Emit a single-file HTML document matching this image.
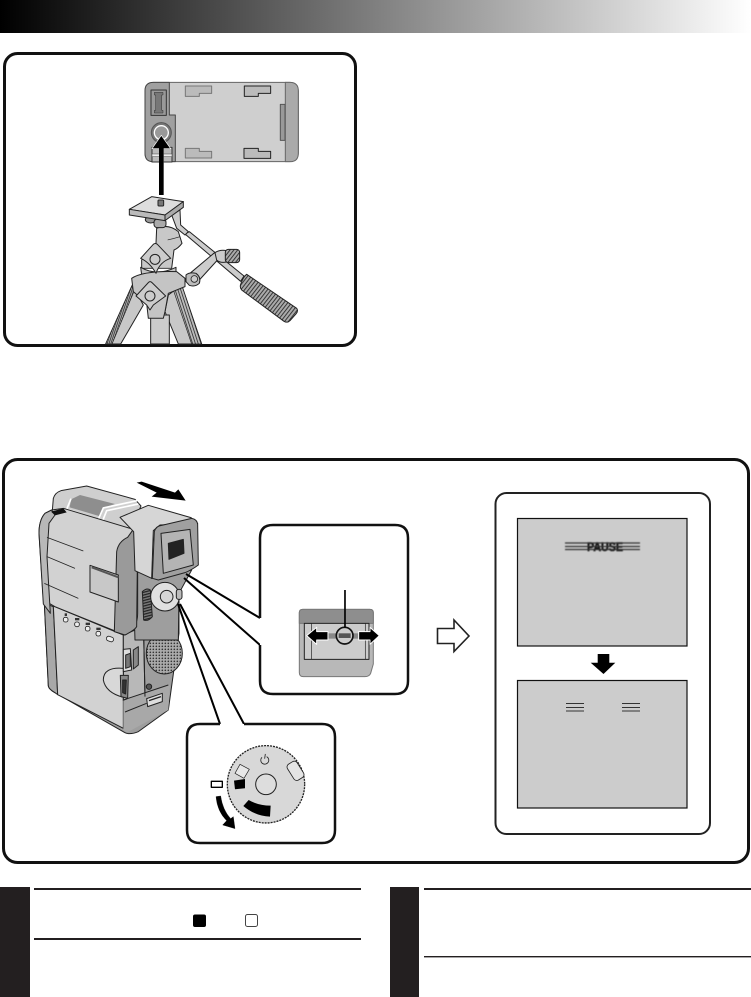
<!DOCTYPE html>
<html><head><meta charset="utf-8"><style>
html,body{margin:0;padding:0;background:#fff}
svg{display:block}
text{font-family:"Liberation Sans",sans-serif}
</style></head><body>
<svg width="751" height="997" viewBox="0 0 751 997" xmlns="http://www.w3.org/2000/svg">
<defs>
<linearGradient id="hd" x1="0" x2="1" y1="0" y2="0"><stop offset="0" stop-color="#000"/><stop offset="1" stop-color="#fff"/></linearGradient>
<pattern id="dots" width="9" height="9" patternUnits="userSpaceOnUse"><rect width="9" height="9" fill="#aaa"/><circle cx="4" cy="4" r="2.4" fill="#333"/></pattern>
<pattern id="ridge" width="9" height="9" patternUnits="userSpaceOnUse" patternTransform="rotate(38)"><rect width="9" height="9" fill="#aaa"/><rect width="2.5" height="9" fill="#222"/></pattern>
<pattern id="hatch" width="6" height="6" patternUnits="userSpaceOnUse" patternTransform="rotate(-20)"><rect width="6" height="6" fill="#aaa"/><rect width="2.5" height="6" fill="#333"/></pattern>
<pattern id="hatch2" width="8" height="8" patternUnits="userSpaceOnUse" patternTransform="rotate(-18)"><rect width="8" height="8" fill="#bbb"/><rect width="2.5" height="8" fill="#333"/></pattern>
<pattern id="wheel" width="8" height="8" patternUnits="userSpaceOnUse" patternTransform="rotate(-15)"><rect width="8" height="8" fill="#777"/><rect width="8" height="3.5" fill="#222"/></pattern>
<filter id="soft"><feGaussianBlur stdDeviation="0.45"/></filter>
</defs>
<rect width="751" height="997" fill="#fff"/>
<rect x="0" y="0" width="751" height="33" fill="url(#hd)"/>

<!-- frames -->
<rect x="4.5" y="53.5" width="351" height="292" rx="13" fill="#fff" stroke="#111" stroke-width="3"/>
<rect x="3.5" y="459.5" width="745" height="403" rx="14" fill="#fff" stroke="#111" stroke-width="3"/>

<!-- Top drawing -->
<g transform="translate(100,60) scale(.3333)" stroke="#222" stroke-width="3" stroke-linejoin="round">
 <!-- battery plate -->
 <rect x="135" y="67" width="460" height="238" rx="26" fill="#cfcfcf" stroke="#666"/>
 <path d="M208 67H160Q135 67 135 92V280Q135 305 160 305H226V165H208Z" fill="#a0a0a0" stroke="#444"/>
 <path d="M556 67H570Q595 67 595 92V280Q595 305 570 305H556Z" fill="#aaa" stroke="#666"/>
 <rect x="153" y="90" width="46" height="76" fill="#999" stroke="#333"/>
 <path d="M163 97h26v8h-4v46h4v8h-26v-8h4v-46h-4z" fill="#777" stroke="#333" stroke-width="1.5"/>
 <circle cx="184" cy="218" r="30" fill="#777" stroke="#555"/>
 <circle cx="184" cy="218" r="21" fill="#999" stroke="#fff" stroke-width="4"/>
 <rect x="156" y="262" width="60" height="44" fill="#bbb" stroke="#333"/>
 <rect x="156" y="282" width="60" height="8" fill="#eee" stroke="#444" stroke-width="1.5"/>
 <rect x="541" y="133" width="14" height="108" fill="#999" stroke="#555"/>
 <path d="M256 78h79v22h-37v9h-42z" fill="#bbb" stroke="#777"/>
 <path d="M433 78h79v22h-37v9h-42z" fill="#bbb" stroke="#222"/>
 <path d="M256 265h42v9h37v20h-79z" fill="#bbb" stroke="#777"/>
 <path d="M432 265h43v9h37v21h-80z" fill="#bbb" stroke="#222"/>
 <!-- arrow -->
 <path d="M184 226L212 266H190V405H178V266H156Z" fill="#000" stroke="#fff" stroke-width="2"/>
 <path d="M184 232L204 264H191V405H177V264H164Z" fill="#000" stroke="none"/>
 <!-- tripod legs -->
 <path d="M97 675L17 852H62L130 735Z" fill="#c8c8c8"/>
 <path d="M97 675L17 852H36L108 680Z" fill="url(#hatch)" stroke-width="2"/>
 <path d="M205 705L245 675L305 852H235L195 755Z" fill="#c8c8c8"/>
 <path d="M220 690L245 675L305 852H275Z" fill="url(#hatch2)" stroke-width="2"/>
 <rect x="152" y="765" width="56" height="87" fill="#ccc"/>
 <!-- handle arm -->
 <path d="M255 522L268 515L432 648L422 664Z" fill="#ccc"/>
 <path d="M270 640L345 577L358 594L298 660Z" fill="#ccc"/>
 <path d="M345 578Q360 568 380 572V606Q360 610 350 600Z" fill="#ccc"/>
 <rect x="376" y="568" width="43" height="40" rx="9" fill="url(#ridge)"/>
 <path d="M258 645Q268 636 288 640Q304 652 298 670Q285 682 268 676L258 665Z" fill="#bbb"/>
 <circle cx="283" cy="657" r="10" fill="#ccc" stroke-width="2.5"/>
 <path d="M440 643L590 745Q596 752 588 762L570 782Q562 790 552 784L425 690Q418 682 423 670Q430 650 440 643Z" fill="url(#ridge)"/>
 <!-- head -->
 <path d="M170 505Q205 490 235 515L246 550Q235 565 222 570L215 625H125V600L168 550Z" fill="#c8c8c8"/>
 <path d="M203 540Q220 536 240 530" fill="none" stroke-width="2"/>
 <path d="M122 622Q170 650 228 622V645H125Z" fill="#c4c4c4"/>
 <path d="M95 655Q130 632 230 635L255 655V680L205 700L195 755L190 775H145L140 730L100 695Z" fill="#c4c4c4"/>
 <path d="M122 595L160 553Q166 548 172 553L212 595Q180 605 168 640Q150 608 122 595Z" fill="#ccc"/>
 <circle cx="165" cy="598" r="15" fill="#ccc"/>
 <path d="M108 708L145 668Q150 662 156 668L197 708L160 735L150 750L140 735Z" fill="#ccc"/>
 <circle cx="150" cy="708" r="15" fill="#ccc"/>
 <ellipse cx="152" cy="479" rx="16" ry="10" fill="#999"/>
 <rect x="162" y="477" width="36" height="26" rx="10" fill="#aaa"/>
 <path d="M215 465L240 450L242 495L265 515L255 525L230 505Z" fill="#ccc"/>
 <!-- plate -->
 <path d="M88 448L155 410L250 425L195 465Z" fill="#ddd"/>
 <path d="M88 448L195 465V482L88 465Z" fill="#bbb"/>
 <path d="M195 465L250 425V442L195 482Z" fill="#aaa"/>
 <rect x="174" y="420" width="17" height="18" rx="3" fill="#777"/>
</g>

<!-- Camera lower -->
<g transform="translate(35,600) scale(.3333)" stroke="#222" stroke-width="3" stroke-linejoin="round">
 <path d="M28 10L40 258Q42 268 60 278L270 398Q285 405 310 395L400 330L432 100L432 -20H300L240 0Z" fill="#9e9e9e"/>
 <path d="M28 10L55 20L68 284L60 278Q42 268 40 258Z" fill="#a8a8a8"/>
 <path d="M55 18L265 105V385L68 284Z" fill="#d2d2d2"/>
 <path d="M265 105L300 90L325 55L330 290L265 302Z" fill="#b8b8b8"/>
 <path d="M265 302V390L275 398L400 330L405 255Z" fill="#a8a8a8" stroke="none"/>
 <path d="M325 55L330 290" fill="none"/>
 <path d="M265 300L400 255M270 336L335 310" fill="none"/>
 <ellipse cx="388" cy="160" rx="54" ry="62" fill="url(#dots)"/>
 <circle cx="342" cy="260" r="8" fill="#555"/>
 <path d="M335 296L382 280L382 305L338 320Z" fill="#ddd"/>
 <path d="M342 302L378 290" fill="none" stroke-width="4"/>
 <path d="M265 205Q205 200 205 240Q212 278 265 292Z" fill="#d8d8d8"/>
 <path d="M265 148L286 146L290 210L265 215Z" fill="#ddd"/>
 <path d="M272 165L286 160V200L272 205Z" fill="#777"/>
 <path d="M295 150L310 140V195L295 207Z" fill="#888"/>
 <path d="M256 226L280 226L278 295L258 290Z" fill="#888"/>
 <path d="M263 240L274 240L272 282L263 278Z" fill="#333"/>
 <g fill="#eee" stroke-width="2.5"><rect x="85" y="52" width="14" height="14" rx="6"/><rect x="119" y="66" width="14" height="14" rx="6"/><rect x="151" y="79" width="14" height="14" rx="6"/><rect x="183" y="94" width="14" height="14" rx="6"/><rect x="214" y="110" width="22" height="14" rx="7" transform="rotate(20 225 117)"/></g>
 <g fill="#333" stroke="none"><rect x="89" y="40" width="7" height="8"/><rect x="120" y="54" width="13" height="7"/><rect x="152" y="68" width="13" height="7"/><rect x="184" y="83" width="13" height="7"/></g>
</g>

<!-- Camera upper -->
<g transform="translate(35,480) scale(.3333)" stroke="#222" stroke-width="3" stroke-linejoin="round">
 <path d="M305 8L320 5L420 38L430 28L452 62L350 50L365 38Z" fill="#000" stroke="none"/>
 <!-- right side upper -->
 <path d="M290 150L350 295L470 270L432 340L430 480H300Z" fill="#9e9e9e"/>
 <!-- top pack -->
 <path d="M52 92L55 55Q60 38 78 32L155 18L300 58L318 78L280 160L180 130L85 90Z" fill="#cfcfcf"/>
 <path d="M108 58L135 45L240 72L205 84L192 108L104 82Z" fill="#8e8e8e" stroke="none"/>
 <path d="M95 88L108 56M95 88L190 118L205 84L306 62M190 118L203 122L215 92L310 72" fill="none" stroke="#fff" stroke-width="5"/>
 <!-- LCD panel -->
 <path d="M12 160Q12 120 30 100L50 90L85 85L295 148L308 165V400Q308 445 270 465L60 380L25 360Z" fill="#d2d2d2"/>
 <path d="M12 160Q12 120 30 100L50 90L60 105L42 130L36 230L46 400L25 372Z" fill="#b8b8b8"/>
 <path d="M295 148L308 165L305 440Q300 450 270 465L238 455L245 215Q250 185 278 172Z" fill="#9a9a9a"/>
 <path d="M165 256L250 285L250 366L165 336Z" fill="#c8c8c8"/>
 <path d="M170 262L250 292" fill="none" stroke-width="6" stroke="#555"/>
 <path d="M36 172L145 213M28 310L130 355M36 230L120 265" fill="none" stroke-width="2.5"/>
 <path d="M48 95L85 85L95 97L60 106Z" fill="#111" stroke="none"/>
 <!-- viewfinder -->
 <path d="M255 112L340 76L468 113L488 130L375 135L355 152L350 295L300 272L296 155Z" fill="#d6d6d6"/>
 <path d="M358 155Q362 138 380 136L470 115Q486 118 488 132L490 255Q470 270 450 278L370 300L352 295Z" fill="#a0a0a0"/>
 <path d="M378 160L465 148L475 255L385 280Z" fill="#b4b4b4"/>
 <path d="M400 190L445 178L447 220L402 238Z" fill="#222"/>
 <!-- controls -->
 <path d="M322 335Q335 322 346 330L352 410Q340 425 326 420Z" fill="url(#wheel)"/>
 <circle cx="390" cy="350" r="43" fill="#e0e0e0"/>
 <circle cx="395" cy="350" r="19" fill="#d6d6d6"/>
 <rect x="424" y="328" width="17" height="30" rx="7" fill="#bbb"/>
</g>

<!-- pointers -->
<g stroke="#000" stroke-width="2" fill="none">
 <path d="M186 574L260 618M184 578L260 645"/>
 <path d="M178 604L220 724M180 604L244 724"/>
</g>

<!-- callout 1 -->
<path d="M260 618V538Q260 525 273 525H395Q408 525 408 538V681Q408 694 395 694H273Q260 694 260 681V645" fill="#fff" stroke="#111" stroke-width="2.5"/>
<!-- callout 2 -->
<path d="M220 724H200Q187 724 187 737V830Q187 843 200 843H322Q335 843 335 830V737Q335 724 322 724H244" fill="#fff" stroke="#111" stroke-width="2.5"/>

<g transform="translate(180,520) scale(.3333)" stroke="#222" stroke-width="3" stroke-linejoin="round">
 <path d="M358 278Q358 268 368 268H570Q580 268 580 278V432L572 460Q568 470 555 470H370Q358 470 358 458Z" fill="#b8b8b8" stroke="#777"/>
 <path d="M358 278Q358 268 368 268H570Q580 268 580 278V310H358Z" fill="#8e8e8e" stroke="#777"/>
 <path d="M373 310H567V418H373Z" fill="#ccc"/>
 <path d="M385 310H395V418M545 310H556V418" fill="none" stroke-width="2"/>
 <rect x="444" y="340" width="92" height="16" fill="#888" stroke="none"/>
 <circle cx="494" cy="347" r="25" fill="#ccc" stroke="#111" stroke-width="5"/>
 <rect x="476" y="340" width="36" height="14" fill="#555" stroke="none"/>
 <path d="M495 210V322" stroke="#000" stroke-width="5"/>
 <path d="M380 347L410 322V335H444V360H410V373Z" fill="#000" stroke="#fff" stroke-width="3"/>
 <path d="M598 347L570 322V335H536V360H570V373Z" fill="#000" stroke="#fff" stroke-width="3"/>
 <!-- dial -->
 <circle cx="258" cy="793" r="116" fill="#d8d8d8" stroke="#222" stroke-width="4" stroke-dasharray="6 3"/>
 <circle cx="258" cy="793" r="31" fill="#ddd"/>
 <path d="M246 712a12 12 0 1 0 14-2M256 702L254 716" fill="none" stroke-width="2.5"/>
 <path d="M180 733L208 748L192 775L165 760Z" fill="#e8e8e8" stroke-width="2"/>
 <path d="M162 782L195 777L195 805L165 808Z" fill="#000" stroke="none"/>
 <rect x="328" y="725" width="34" height="56" rx="10" transform="rotate(-32 345 750)" fill="#e4e4e4" stroke-width="2.5"/>
 <path d="M206 840Q235 857 272 857L270 890Q225 888 190 858Z" fill="#000" stroke="none"/>
 <rect x="94" y="784" width="33" height="18" fill="#fff" stroke="#000" stroke-width="4"/>
 <path d="M108 830Q112 875 140 902L128 915L165 926L160 890L152 896Q128 870 122 828Z" fill="#000" stroke="#000" stroke-width="1"/>
</g>

<!-- hollow arrow -->
<path d="M437.5 628.5H454V620L469 636L454 651.5V643.5H437.5Z" fill="#fff" stroke="#222" stroke-width="1.6"/>

<!-- screens panel -->
<rect x="495.5" y="493" width="214.5" height="341" rx="11" fill="#fff" stroke="#222" stroke-width="2"/>
<rect x="517.5" y="518.5" width="169.5" height="127.5" fill="#ccc" stroke="#111" stroke-width="1.2"/>
<rect x="517.5" y="680.5" width="169.5" height="127.5" fill="#ccc" stroke="#111" stroke-width="1.2"/>
<path d="M597.7 654H609.3V662.7H615.3L603.5 674L590.7 662.7H597.7Z" fill="#000"/>
<g filter="url(#soft)">
<text x="605" y="551" font-size="12" font-weight="bold" fill="#111" stroke="#111" stroke-width=".5" text-anchor="middle" textLength="36" lengthAdjust="spacingAndGlyphs">PAUSE</text>
<path d="M565 543H640M565 546.5H640M565 549.5H640" stroke="#333" stroke-width="1.2" fill="none"/>
</g>
<path d="M566 703.5H584M566 707.5H584M566 711H584M622 703.5H640M622 707.5H640M622 711H640" stroke="#333" stroke-width="1" fill="none"/>

<!-- bottom -->
<rect x="0" y="887" width="30" height="110" fill="#231f20"/>
<rect x="390" y="887" width="29" height="110" fill="#231f20"/>
<rect x="34" y="888" width="327" height="2" fill="#231f20"/>
<rect x="34" y="938" width="327" height="2" fill="#231f20"/>
<rect x="424" y="888" width="327" height="2" fill="#231f20"/>
<rect x="424" y="956" width="327" height="1.4" fill="#231f20"/>
<rect x="193" y="914.5" width="13" height="12.5" rx="2" fill="#000"/>
<rect x="245.5" y="914.5" width="12" height="12" rx="2" fill="#fff" stroke="#444" stroke-width="1"/>
</svg>
</body></html>
